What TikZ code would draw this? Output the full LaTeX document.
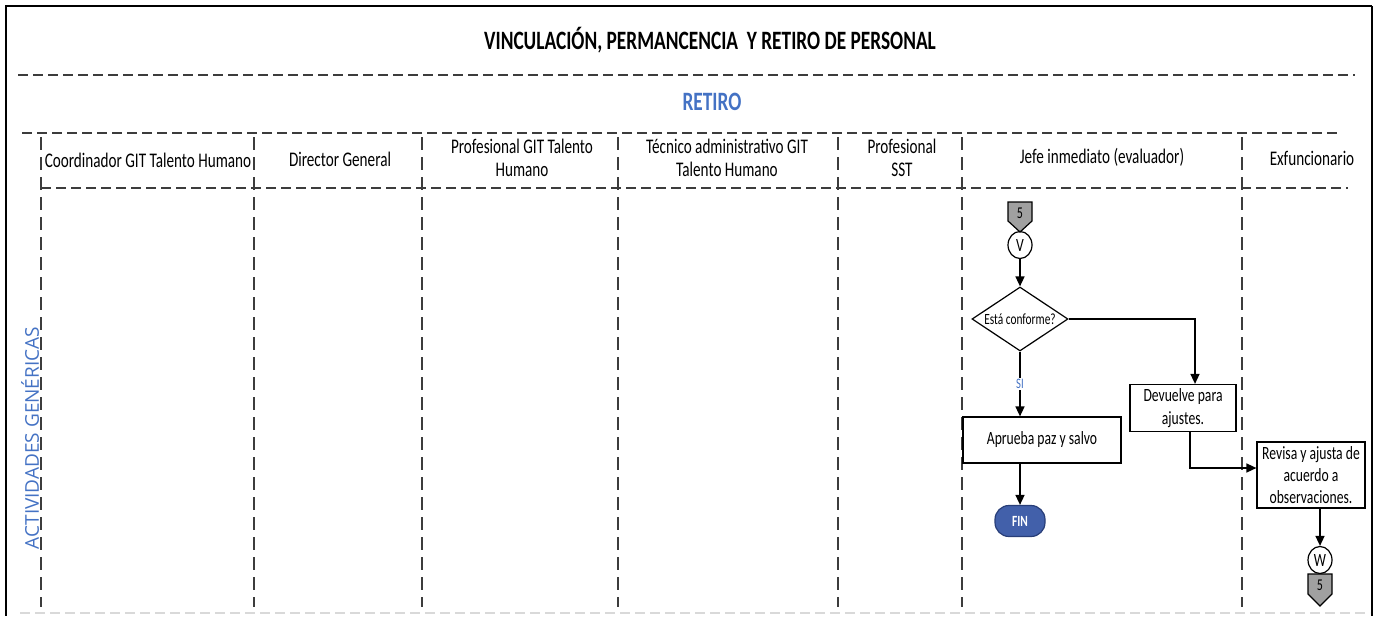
\documentclass[tikz,border=0pt]{standalone}
\usepackage{fontspec}
\setmainfont{Carlito}
\newfontfamily\lanefont{Open Sans}
\usepackage{graphicx}
\usetikzlibrary{arrows.meta,shapes.geometric,calc,positioning}
\definecolor{retiroblue}{RGB}{68,114,196}
\definecolor{finblue}{RGB}{66,96,170}
\definecolor{findark}{RGB}{40,62,120}
\definecolor{dashgray}{RGB}{60,60,60}
\definecolor{taggray}{RGB}{160,160,160}
\newcommand{\sq}[1]{\scalebox{0.73}[1]{#1}}
\tikzset{
  lanedash/.style={line width=2pt, dashgray, dash pattern=on 13pt off 7pt},
  rowdash/.style={line width=2pt, dashgray, dash pattern=on 10pt off 5pt},
  lanehead/.style={align=center, font=\fontsize{20.8}{23}\selectfont},
  actbox/.style={draw, line width=1.2pt, align=center, inner sep=2pt, font=\fontsize{18.7}{23}\selectfont},
  decision/.style={diamond, draw, line width=1.2pt, aspect=1.5, inner sep=0pt, minimum width=96pt, minimum height=64pt, font=\fontsize{15.6}{18}\selectfont},
  conn/.style={ellipse, draw, line width=1.2pt, inner sep=0pt, minimum width=24pt, minimum height=27pt, font=\fontsize{18.7}{20}\selectfont},
  endbox/.style={rectangle, rounded corners=14pt, draw=findark, line width=1.2pt, fill=finblue, text=white, minimum width=50pt, minimum height=31pt, font=\fontsize{15.6}{18}\selectfont\bfseries},
  offpage/.style={draw, line width=1.2pt, fill=taggray},
  flow/.style={line width=1.5pt, -{Triangle[length=10pt,width=9pt]}},
}
\begin{document}
\begin{tikzpicture}[x=1pt, y=-1pt]
	\useasboundingbox (0,0) rectangle (1376,616);
	\draw [line width=2pt] (1372,6) -- (6,6) -- (6,616);
	\draw [line width=2pt] (1372,6) -- (1372,616);
	\node [font=\fontsize{26.5}{30}\selectfont\bfseries] (title) at (710,40) {\sq{VINCULACIÓN, PERMANCENCIA\ \ Y RETIRO DE PERSONAL}};
	\draw [rowdash] (18,75) -- (1355,75);
	\node [font=\fontsize{26.5}{30}\selectfont\bfseries, text=retiroblue] (retiro) at (712,102) {\sq{RETIRO}};
	\draw [rowdash] (22,133) -- (1340,133);
	\draw [rowdash] (41,188) -- (1348,188);
	\draw [rowdash, gray!30] (20,613) -- (1370,613);
	\foreach \x in {41,254,422,618,838,962,1242}
		\draw [lanedash] (\x,137) -- (\x,607);
	\node [lanehead] (coordinador) at (148,160) {\sq{Coordinador GIT Talento Humano}};
	\node [lanehead] (director) at (340,159) {\sq{Director General}};
	\node [lanehead] (profgit) at (522,158) {\sq{Profesional GIT Talento}\\\sq{Humano}};
	\node [lanehead] (tecnico) at (727,158) {\sq{Técnico administrativo GIT}\\\sq{Talento Humano}};
	\node [lanehead] (profsst) at (902,158) {\sq{Profesional}\\\sq{SST}};
	\node [lanehead] (jefe) at (1102,157) {\sq{Jefe inmediato (evaluador)}};
	\node [lanehead] (exfun) at (1312,158) {\sq{Exfuncionario}};
	\node [rotate=90, text=retiroblue, font=\lanefont\fontsize{19}{22}\selectfont] (actividades) at (30,438) {ACTIVIDADES GENÉRICAS};
	\coordinate (tagin) at (1020,202);
	\draw [offpage] (tagin) ++(-12,0) -- ++(24,0) -- ++(0,19) -- ++(-12,11) -- ++(-12,-11) -- cycle;
	\node [font=\fontsize{16.5}{18}\selectfont] (tagintext) at ($(tagin)+(0,11)$) {\sq{5}};
	\node [conn] (v) at (1020,245) {\sq{V}};
	\node [decision] (conforme) at (1020,319) {\sq{Está conforme?}};
	\node [actbox, minimum width=158pt, minimum height=46pt] (aprueba) at (1042,440) {\sq{Aprueba paz y salvo}};
	\node [endbox] (fin) at (1020,521) {\sq{FIN}};
	\node [actbox, minimum width=106pt, minimum height=47pt] (devuelve) at (1183,408) {\sq{Devuelve para}\\\sq{ajustes.}};
	\node [actbox, minimum width=108pt, minimum height=66pt, font=\fontsize{18.7}{22}\selectfont] (revisa) at (1311,475) {\sq{Revisa y ajusta de}\\\sq{acuerdo a}\\\sq{observaciones.}};
	\node [conn] (w) at (1320,560) {\sq{W}};
	\coordinate (tagout) at (1320,574);
	\draw [offpage] (tagout) ++(-12,0) -- ++(24,0) -- ++(0,20) -- ++(-12,12) -- ++(-12,-12) -- cycle;
	\node [font=\fontsize{16.5}{18}\selectfont] (tagouttext) at ($(tagout)+(0,11)$) {\sq{5}};
	\draw [flow] (v) -- (conforme);
	\draw [flow] (conforme.south) -- node [fill=white, text=retiroblue, inner sep=1pt, font=\fontsize{14.5}{16}\selectfont] (si) {\sq{SI}} (conforme.south |- aprueba.north);
	\draw [flow] (conforme.south |- aprueba.south) -- (fin);
	\draw [flow] (conforme.east) -| ($(devuelve.north)+(12,0)$);
	\draw [flow] ($(devuelve.south)+(7,0)$) |- ($(revisa.west)+(0,-7)$);
	\draw [flow] (w |- revisa.south) -- (w);
\end{tikzpicture}
\end{document}
